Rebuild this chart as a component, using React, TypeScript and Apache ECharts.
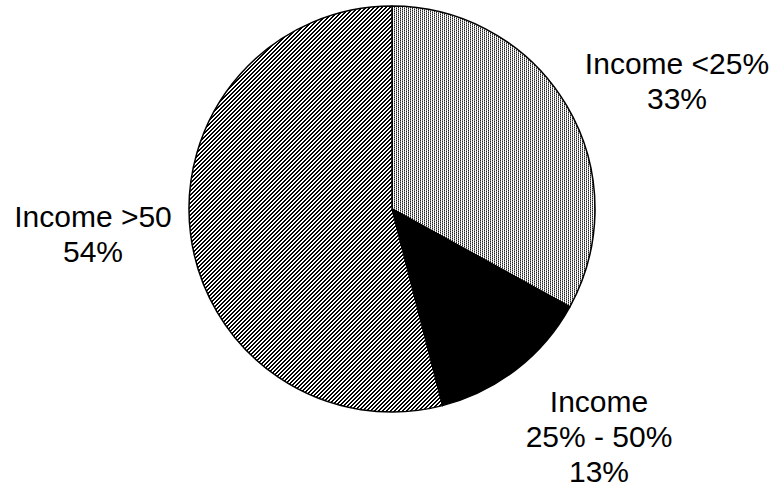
import React, { useEffect, useRef } from "react";
import * as echarts from "echarts";

const categories = ["Income <25%", "Income\n25% - 50%", "Income >50"];
const values = [33, 13, 54];

const labelPos = [
  { x: 677, y: 81 },
  { x: 599, y: 436 },
  { x: 93, y: 234 },
];

function makeTile(w: number, h: number, fn: (x: number, y: number) => number): string {
  const c = document.createElement("canvas");
  c.width = w;
  c.height = h;
  const ctx = c.getContext("2d")!;
  const img = ctx.createImageData(w, h);
  for (let y = 0; y < h; y++) {
    for (let x = 0; x < w; x++) {
      const v = fn(x, y);
      const i = (y * w + x) * 4;
      img.data[i] = v;
      img.data[i + 1] = v;
      img.data[i + 2] = v;
      img.data[i + 3] = 255;
    }
  }
  ctx.putImageData(img, 0, 0);
  return c.toDataURL();
}

export default function App() {
  const ref = useRef<HTMLDivElement>(null);
  useEffect(() => {
    document.body.style.margin = "0";
    const dotted = makeTile(4, 2, (x, y) => {
      const row0 = [30, 255, 140, 255];
      const row1 = [140, 255, 30, 255];
      return (y === 0 ? row0 : row1)[x];
    });
    const hatch = makeTile(4, 4, (x, y) => (((x + y) % 4) < 2 ? 0 : 255));
    const fills: any[] = [
      { image: dotted, repeat: "repeat", imageWidth: 4, imageHeight: 2 },
      "#000000",
      { image: hatch, repeat: "repeat", imageWidth: 4, imageHeight: 4 },
    ];
    const chart = echarts.init(ref.current!, null, { renderer: "svg" });
    chart.setOption({
      animation: false,
      backgroundColor: "#ffffff",
      series: [
        {
          type: "pie",
          center: [392, 209],
          radius: 203,
          startAngle: 90,
          clockwise: true,
          silent: true,
          data: categories.map((name, i) => ({
            name,
            value: values[i],
            itemStyle: { color: fills[i] },
          })),
          itemStyle: { borderColor: "#000", borderWidth: 1.5 },
          label: {
            show: true,
            position: "outside",
            formatter: "{b}\n{c}%",
            fontSize: 30,
            lineHeight: 35,
            overflow: "none",
            fontFamily: "'Liberation Sans', Arial, sans-serif",
            color: "#000",
          },
          labelLine: { show: false },
          labelLayout: (params: any) => ({
            x: labelPos[params.dataIndex].x,
            y: labelPos[params.dataIndex].y,
            align: "center",
            verticalAlign: "middle",
          }),
        },
      ],
    });
    return () => chart.dispose();
  }, []);
  return <div ref={ref} style={{ width: 780, height: 491 }} />;
}
